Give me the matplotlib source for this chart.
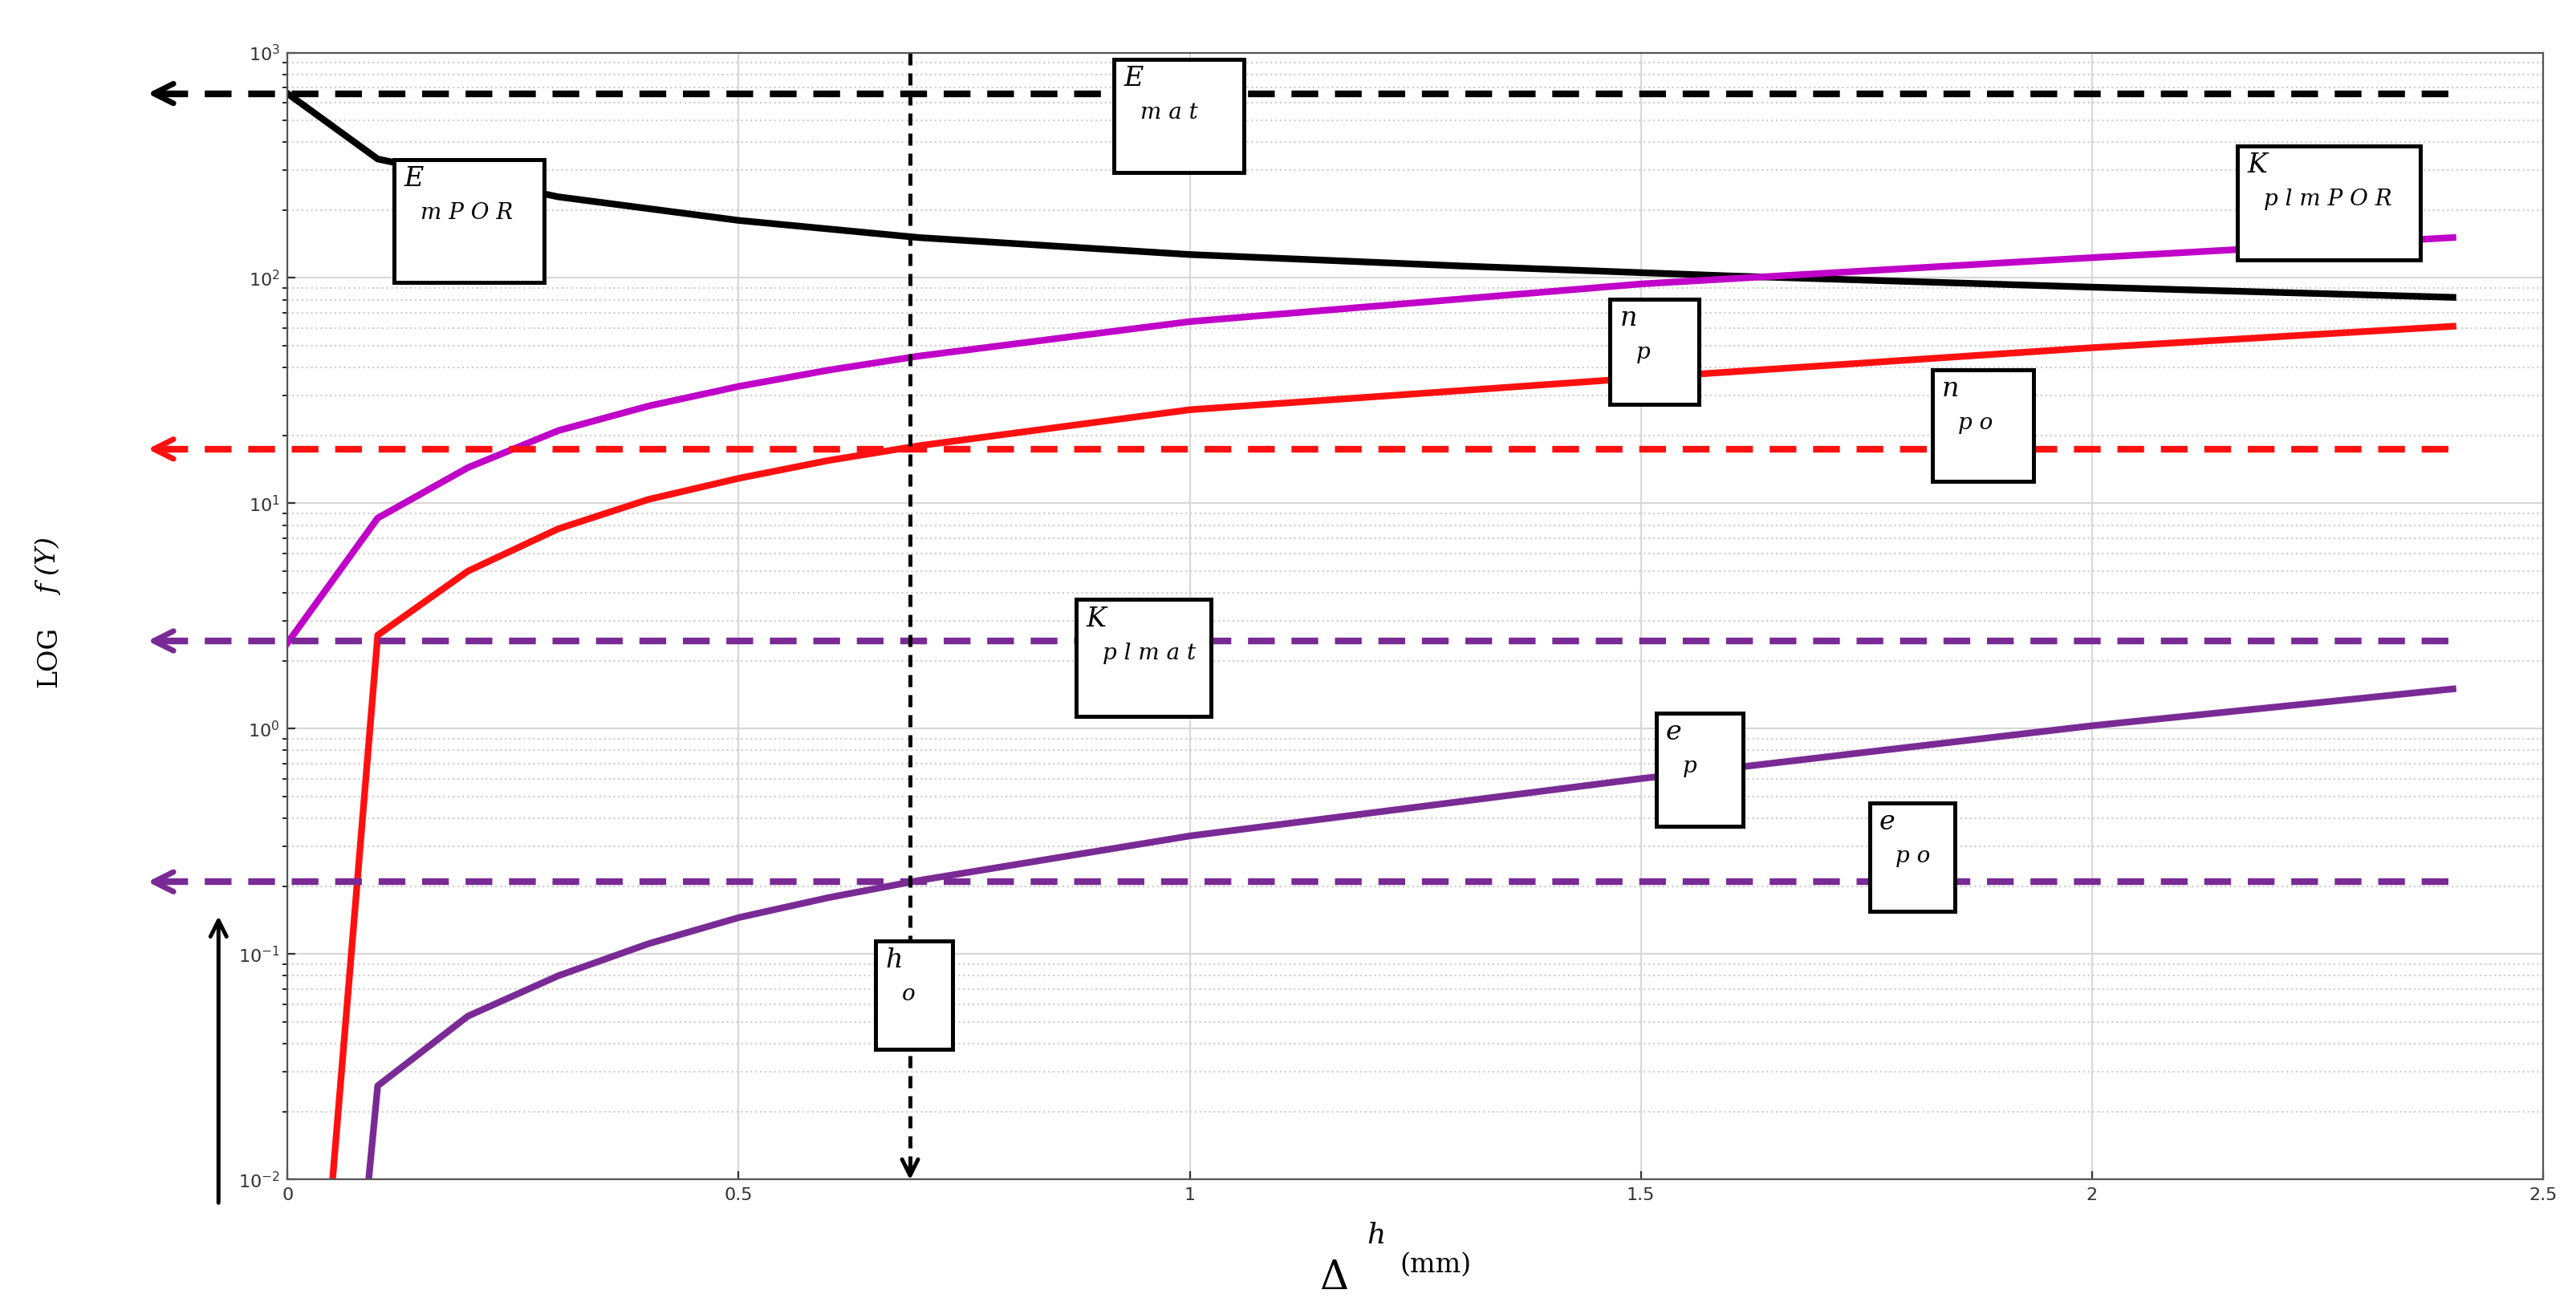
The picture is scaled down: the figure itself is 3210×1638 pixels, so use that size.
import matplotlib
matplotlib.use("Agg")
import matplotlib.pyplot as plt
from matplotlib.patches import Rectangle
from matplotlib.ticker import LogLocator, NullFormatter

x_black = [0, 0.1, 0.3, 0.5, 0.7, 1.0, 1.3, 1.6, 2.0, 2.4]
E_mPOR = [658, 337, 229, 180, 151, 127, 113, 102, 91, 82]
x_mag = [0, 0.1, 0.2, 0.3, 0.4, 0.5, 0.6, 0.7, 1.0, 1.5, 2.0, 2.4]
K_plmPOR = [2.4, 8.6, 14.4, 21, 27, 33, 39, 45, 64, 94, 123, 151]
x_red = [0.05, 0.1, 0.2, 0.3, 0.4, 0.5, 0.6, 0.7, 1.0, 1.5, 2.0, 2.4]
n_p = [0.01, 2.6, 5.0, 7.7, 10.4, 12.9, 15.5, 18, 26, 36, 49, 61]
x_pur = [0.09, 0.1, 0.2, 0.3, 0.4, 0.5, 0.6, 0.7, 1.0, 1.5, 2.0, 2.4]
e_p = [0.01, 0.026, 0.053, 0.080, 0.111, 0.145, 0.178, 0.212, 0.334, 0.60, 1.03, 1.5]
E_mat = 658
n_p0 = 17.4
K_plmat = 2.45
e_p0 = 0.209
h_o = 0.69

W, H = 3210, 1638
fig = plt.figure(figsize=(W/200, H/200), dpi=200)
ax = fig.add_axes([175/1568, 1-718/800, (1548-175)/1568, (718-32)/800])
ax.set_yscale('log')
ax.set_xlim(0, 2.5)
ax.set_ylim(0.01, 1000)
ax.yaxis.set_minor_locator(LogLocator(base=10, subs=range(2, 10)))
ax.yaxis.set_minor_formatter(NullFormatter())
ax.grid(True, which='major', color='#d8d8d8', lw=0.8)
ax.grid(True, which='minor', axis='y', color='#d0d0d0', ls=':', lw=0.8)
ax.set_xticks([0, 0.5, 1, 1.5, 2, 2.5])
ax.set_xticklabels(['0', '0.5', '1', '1.5', '2', '2.5'])
ax.tick_params(labelsize=8, colors='#333333', direction='in')
for s in ax.spines.values():
    s.set_color('#555555'); s.set_linewidth(0.8)

lw = 3
ax.plot(x_black, E_mPOR, color='black', lw=lw)
ax.plot(x_mag, K_plmPOR, color='#c000c8', lw=lw)
ax.plot(x_red, n_p, color='#ff1010', lw=lw)
ax.plot(x_pur, e_p, color='#7a2a95', lw=lw)

xl = -0.16
for yv, c in [(E_mat, 'black'), (n_p0, '#ff1010'), (K_plmat, '#7a2a95'), (e_p0, '#7a2a95')]:
    ax.plot([xl + 0.02, 2.4], [yv, yv], color=c, lw=lw, ls='--', dashes=(4, 2.5), clip_on=False)
    ax.annotate('', xy=(xl, yv), xytext=(xl + 0.05, yv), annotation_clip=False,
                arrowprops=dict(arrowstyle='->', color=c, lw=2.5, mutation_scale=22))
ax.plot([h_o, h_o], [1000, 0.0105], color='black', lw=1.8, ls='--', dashes=(3, 2))
ax.annotate('', xy=(h_o, 0.0095), xytext=(h_o, 0.012), annotation_clip=False,
            arrowprops=dict(arrowstyle='->', color='black', lw=1.8, mutation_scale=18))

# vertical arrow outside left
fig.add_artist(matplotlib.patches.FancyArrowPatch((133/1568, 1-735/800), (133/1568, 1-555/800),
               transform=fig.transFigure, arrowstyle='->', mutation_scale=18, lw=1.8, color='black'))

boxes = [((678, 36, 757, 105), 'E', 'm a t'),
         ((240, 97, 331, 172), 'E', 'm P O R'),
         ((1362, 89, 1473, 158), 'K', 'p l m P O R'),
         ((980, 182, 1034, 246), 'n', 'p'),
         ((1176, 225, 1238, 293), 'n', 'p o'),
         ((655, 365, 737, 436), 'K', 'p l m a t'),
         ((1008, 434, 1061, 503), 'e', 'p'),
         ((1138, 489, 1190, 555), 'e', 'p o'),
         ((533, 573, 580, 639), 'h', 'o')]
for (x0, y0, x1, y1), m, sub in boxes:
    fig.add_artist(Rectangle((x0/1568, 1-y1/800), (x1-x0)/1568, (y1-y0)/800,
                             transform=fig.transFigure, fc='white', ec='black', lw=1.8, zorder=5))
    fig.text((x0+6)/1568, 1-(y0+4)/800, m, fontsize=12, style='italic', family='DejaVu Serif',
             va='top', ha='left', zorder=6)
    fig.text((x0+16)/1568, 1-(y0+26)/800, sub, fontsize=10, style='italic', family='DejaVu Serif',
             va='top', ha='left', zorder=6)

fig.text(30/1568, 1-400/800, 'LOG', rotation=90, fontsize=12, family='DejaVu Serif', va='center', ha='center')
fig.text(30/1568, 1-345/800, 'f (Y)', rotation=90, fontsize=12, style='italic', family='DejaVu Serif', va='center', ha='center')
fig.text(812/1568, 1-778/800, 'Δ', fontsize=18, family='DejaVu Serif', va='center', ha='center')
fig.text(832/1568, 1-752/800, 'h', fontsize=13, style='italic', family='DejaVu Serif', va='center', ha='left')
fig.text(852/1568, 1-770/800, '(mm)', fontsize=12, family='DejaVu Serif', va='center', ha='left')

fig.savefig('out.png', dpi=200, facecolor='white')
